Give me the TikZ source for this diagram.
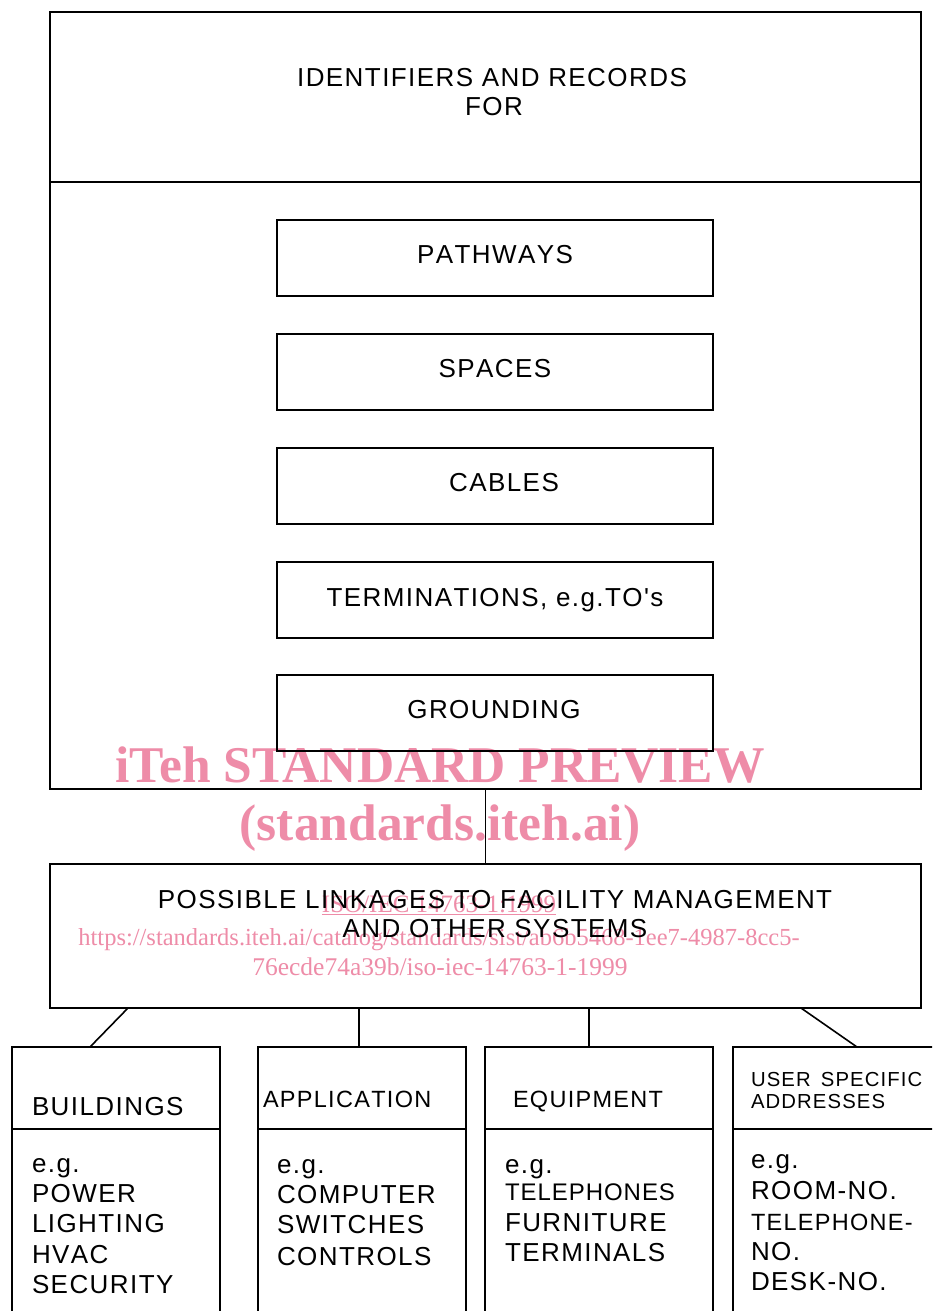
\documentclass[tikz,border=0pt]{standalone}
\usepackage{fontspec}
\setmainfont{Liberation Sans}
\newfontfamily\lsf[LetterSpace=5.5,Kerning=Off]{Liberation Sans}
\newfontfamily\lsn[LetterSpace=4,Kerning=Off]{Liberation Sans}
\newfontfamily\wmf{Liberation Serif}
\definecolor{wmpink}{RGB}{238,140,168}
\tikzset{
  box/.style={draw, line width=2pt, inner sep=0pt, outer sep=0pt, anchor=north west},
  conn/.style={line width=1.6pt},
  lbl/.style={inner sep=0pt, outer sep=0pt, font=\lsf\fontsize{26}{30}\selectfont},
  lblm/.style={lbl, font=\lsf\fontsize{23.5}{28}\selectfont},
  lbln/.style={lbl, font=\lsn\fontsize{24}{28}\selectfont},
  lbls/.style={lbl, font=\lsf\fontsize{20.3}{22}\selectfont},
  wm/.style={inner sep=0pt, outer sep=0pt, text=wmpink, font=\wmf\fontsize{25}{30}\selectfont},
  wmbig/.style={wm, font=\wmf\bfseries\fontsize{51.5}{52}\selectfont},
}
\begin{document}
\begin{tikzpicture}[x=1pt,y=-1pt]
\useasboundingbox (0,0) rectangle (932,1311);
\clip (0,0) rectangle (932,1311);
\fill[white] (0,0) rectangle (932,1311);

% watermark
\node[wmbig, anchor=base] (wm1) at (440,782) {iTeh STANDARD PREVIEW};
\node[wmbig, anchor=base] (wm2) at (440,840) {(standards.iteh.ai)};
\node[wm, anchor=base] (wm3) at (439,912) {\underline{ISO/IEC 14763-1:1999}};
\node[wm, anchor=base, font=\wmf\fontsize{24.5}{30}\selectfont] (wm4) at (439,945) {https://standards.iteh.ai/catalog/standards/sist/ab6b5468-1ee7-4987-8cc5-};
\node[wm, anchor=base, font=\wmf\fontsize{25.5}{30}\selectfont] (wm5) at (440,975) {76ecde74a39b/iso-iec-14763-1-1999};

% top block
\node[box, minimum width=871pt, minimum height=777pt] (outer) at (50,12) {};
\draw[line width=2pt] ([yshift=-170pt]outer.north west) -- ([yshift=-170pt]outer.north east);
\node[lbl, anchor=base] (t1) at (492,87) {IDENTIFIERS AND RECORDS};
\node[lbl, anchor=base] (t2) at (494,116) {FOR};

\node[box, minimum width=436pt, minimum height=76pt] (pathb) at (277,220) {};
\node[box, minimum width=436pt, minimum height=76pt] (spaceb) at (277,334) {};
\node[box, minimum width=436pt, minimum height=76pt] (cableb) at (277,448) {};
\node[box, minimum width=436pt, minimum height=76pt] (termb) at (277,562) {};
\node[box, minimum width=436pt, minimum height=76pt] (groundb) at (277,675) {};
\node[lbl, anchor=base] (pathl) at (495,263) {PATHWAYS};
\node[lbl, anchor=base] (spacel) at (495,377) {SPACES};
\node[lbl, anchor=base] (cablel) at (504,491) {CABLES};
\node[lbl, anchor=base] (terml) at (495,606) {TERMINATIONS, e.g.TO's};
\node[lbl, anchor=base] (groundl) at (494,718) {GROUNDING};

% linkage block
\node[box, minimum width=871pt, minimum height=144pt] (link) at (50,864) {};
\draw[conn] (outer.south) -- (link.north);
\node[lbl, anchor=base] (lk1) at (495,908) {POSSIBLE LINKAGES TO FACILITY MANAGEMENT};
\node[lbl, anchor=base] (lk2) at (495,937) {AND OTHER SYSTEMS};

% bottom boxes
\node[box, minimum width=208pt, minimum height=300pt] (b1) at (12,1047) {};
\node[box, minimum width=208pt, minimum height=300pt] (b2) at (258,1047) {};
\node[box, minimum width=228pt, minimum height=300pt] (b3) at (485,1047) {};
\node[box, minimum width=250pt, minimum height=300pt] (b4) at (733,1047) {};
\foreach \b in {b1,b2,b3,b4}{
  \draw[line width=2pt] ([yshift=-82pt]\b.north west) -- ([yshift=-82pt]\b.north east);
}
\draw[conn] ([xshift=78pt]link.south west) -- ([xshift=78pt]b1.north west);
\draw[conn] ([xshift=309pt]link.south west) -- ([xshift=101pt]b2.north west);
\draw[conn] ([xshift=539pt]link.south west) -- ([xshift=104pt]b3.north west);
\draw[conn] ([xshift=751pt]link.south west) -- ([xshift=124pt]b4.north west);

% box 1
\node[lbl, anchor=base west] (b1h) at (32,1115) {BUILDINGS};
\node[lbl, anchor=base west] (b1a) at (32,1172) {e.g.};
\node[lbl, anchor=base west] (b1b) at (32,1202) {POWER};
\node[lbl, anchor=base west] (b1c) at (32,1232) {LIGHTING};
\node[lbl, anchor=base west] (b1d) at (32,1263) {HVAC};
\node[lbl, anchor=base west] (b1e) at (32,1293) {SECURITY};
% box 2
\node[lblm, anchor=base west] (b2h) at (263,1107) {APPLICATION};
\node[lbl, anchor=base west] (b2a) at (277,1173) {e.g.};
\node[lbl, anchor=base west] (b2b) at (277,1203) {COMPUTER};
\node[lbl, anchor=base west] (b2c) at (277,1233) {SWITCHES};
\node[lbl, anchor=base west] (b2d) at (277,1265) {CONTROLS};
% box 3
\node[lblm, anchor=base west] (b3h) at (513,1107) {EQUIPMENT};
\node[lbl, anchor=base west] (b3a) at (505,1173) {e.g.};
\node[lbln, anchor=base west] (b3b) at (505,1200) {TELEPHONES};
\node[lbl, anchor=base west] (b3c) at (505,1231) {FURNITURE};
\node[lbl, anchor=base west] (b3d) at (505,1261) {TERMINALS};
% box 4
\node[lbls, anchor=base west] (b4h1) at (751,1086) {USER\, SPECIFIC};
\node[lbls, anchor=base west] (b4h2) at (751,1108) {ADDRESSES};
\node[lbl, anchor=base west] (b4a) at (751,1168) {e.g.};
\node[lbl, anchor=base west] (b4b) at (751,1199) {ROOM-NO.};
\node[lblm, anchor=base west] (b4c) at (751,1230) {TELEPHONE-};
\node[lbl, anchor=base west] (b4d) at (751,1260) {NO.};
\node[lbl, anchor=base west] (b4e) at (751,1290) {DESK-NO.};
\end{tikzpicture}
\end{document}
